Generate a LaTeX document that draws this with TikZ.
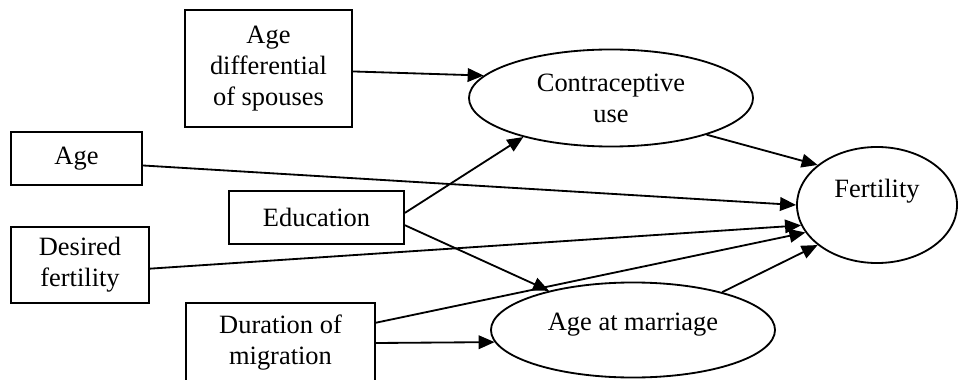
\documentclass[tikz,border=0pt]{standalone}
\usepackage{fontspec}
\setmainfont{Liberation Serif}
\usetikzlibrary{arrows.meta,shapes.geometric}

\begin{document}
\begin{tikzpicture}[x=0.025cm,y=-0.025cm,line width=1.3pt,
    box/.style={draw,rectangle,inner sep=0pt,align=center,font=\fontsize{18.8}{22}\selectfont},
    oval/.style={draw,ellipse,inner sep=0pt,align=center,font=\fontsize{18.8}{22}\selectfont},
    link/.style={-{Triangle[length=0.4cm,width=0.34cm]}}]
    \useasboundingbox (0,0) rectangle (960,380);
    \clip (0,0) rectangle (960,380);
    \node[box,minimum width=4.175cm,minimum height=2.925cm] (diff) at (268.5,68.5) {Age\\differential\\of spouses};
    \node[box,minimum width=3.275cm,minimum height=1.325cm] (age) at (76.5,158.5) {Age};
    \node[box,minimum width=4.375cm,minimum height=1.325cm] (edu) at (316.5,217.5) {Education};
    \node[box,minimum width=3.45cm,minimum height=1.9cm] (desired) at (80,265) {Desired\\fertility};
    \node[box,minimum width=4.725cm,minimum height=2cm] (dur) at (280.5,343) {Duration of\\migration};
    \node[oval,minimum width=7.1cm,minimum height=2.425cm] (contra) at (611,98) {Contraceptive\\use};
    \node[oval,minimum width=7.1cm,minimum height=2.375cm,text height=12pt,text depth=12pt] (marr) at (633,330) {Age at marriage};
    \node[oval,minimum width=4cm,minimum height=2.9cm,text height=13pt,text depth=24pt] (fert) at (877,205) {Fertility};
    \draw[link] (diff.-2) -- (contra.170);
    \draw[link] (age.-6.5) -- (fert.west);
    \draw[link] (edu.3) -- (contra.204);
    \draw[link] (edu.-5) -- (marr.155);
    \draw[link] (desired.-3) -- (fert.195);
    \draw[link] (dur.12) -- (fert.201);
    \draw[link] (dur.east) -- (marr.185);
    \draw[link] (contra.-21) -- (fert.146);
    \draw[link] (marr.23) -- (fert.214);
\end{tikzpicture}
\end{document}
